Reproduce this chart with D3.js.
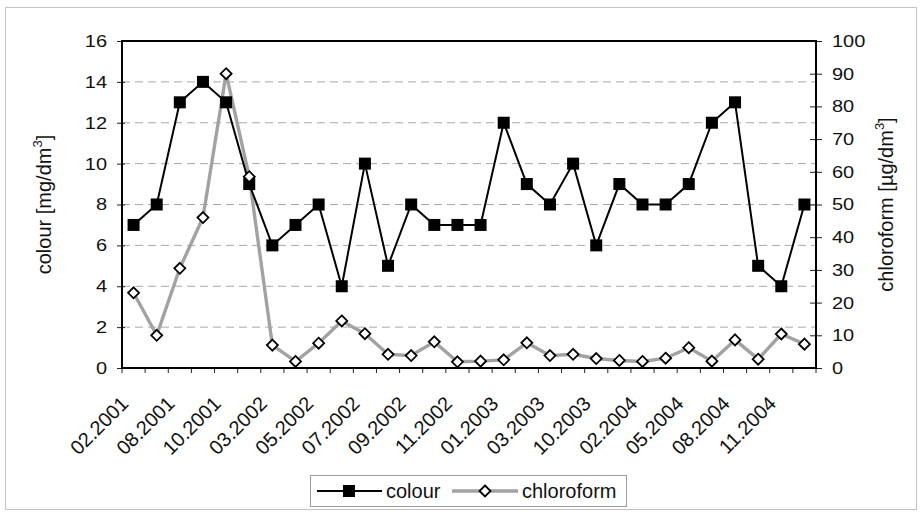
<!DOCTYPE html>
<html>
<head>
<meta charset="utf-8">
<script src="https://cdn.jsdelivr.net/npm/d3@7/dist/d3.min.js"></script>
<style>
  html, body { margin: 0; padding: 0; background: #fff; }
  svg { display: block; }
  text { font-family: "Liberation Sans", Arial, sans-serif; fill: #111; }
</style>
</head>
<body>
<svg id="chart" width="921" height="512"></svg>
<script>
// Sampling dates (one per category; every other one is labelled)
const dates = [
  "02.2001", "05.2001", "08.2001", "09.2001", "10.2001", "12.2001",
  "03.2002", "04.2002", "05.2002", "06.2002", "07.2002", "08.2002",
  "09.2002", "10.2002", "11.2002", "12.2002", "01.2003", "02.2003",
  "03.2003", "09.2003", "10.2003", "01.2004", "02.2004", "04.2004",
  "05.2004", "07.2004", "08.2004", "10.2004", "11.2004", "12.2004"
];
const labelEvery = 2;

// colour [mg/dm3]
const colour = [7, 8, 13, 14, 13, 9, 6, 7, 8, 4, 10, 5, 8, 7, 7, 7, 12, 9, 8, 10, 6, 9, 8, 8, 9, 12, 13, 5, 4, 8];

// chloroform [µg/dm3]
const chloroform = [23, 10, 30.5, 46, 90, 58.5, 7, 2, 7.6, 14.4, 10.5, 4.2, 3.8, 8, 1.9, 2.1, 2.5, 7.7, 3.8, 4.2, 2.9, 2.3, 2, 3, 6.2, 2.1, 8.6, 2.7, 10.4, 7.3];

const leftTicks = [0, 2, 4, 6, 8, 10, 12, 14, 16];
const rightTicks = [0, 10, 20, 30, 40, 50, 60, 70, 80, 90, 100];

const svg = d3.select("#chart");
const plot = { left: 122, right: 816, top: 41, bottom: 368 };
const FS = 20;          // base font size
const TICK_SY = 0.82;   // value labels are drawn slightly condensed vertically

// outer frame
svg.append("rect")
  .attr("x", 5.5).attr("y", 7.5).attr("width", 911).attr("height", 502)
  .attr("fill", "#fff").attr("stroke", "#c4c4c4").attr("stroke-width", 1);

const x = d3.scaleBand().domain(d3.range(dates.length)).range([plot.left, plot.right]).padding(0);
const cx = i => x(i) + x.bandwidth() / 2;
const yL = d3.scaleLinear().domain([0, 16]).range([plot.bottom, plot.top]);
const yR = d3.scaleLinear().domain([0, 100]).range([plot.bottom, plot.top]);

// dashed gridlines
svg.append("g").selectAll("line")
  .data(leftTicks.filter(t => t > 0 && t < 16))
  .join("line")
  .attr("x1", plot.left).attr("x2", plot.right)
  .attr("y1", d => yL(d)).attr("y2", d => yL(d))
  .attr("stroke", "#a8a8a8").attr("stroke-width", 1)
  .attr("stroke-dasharray", "8,5");

// left axis ticks (labels drawn separately)
const gL = svg.append("g").attr("transform", `translate(${plot.left},0)`)
  .call(d3.axisLeft(yL).tickValues(leftTicks).tickSizeOuter(0).tickFormat(""));
gL.select(".domain").remove();
gL.selectAll(".tick line").attr("x1", 3).attr("x2", -5).attr("stroke", "#222");
svg.append("g").selectAll("text")
  .data(leftTicks)
  .join("text")
  .attr("transform", d => `translate(107,${yL(d)}) scale(1,${TICK_SY})`)
  .attr("text-anchor", "end").attr("dy", "0.36em")
  .attr("font-size", FS)
  .text(d => d);

// right axis ticks
const gR = svg.append("g").attr("transform", `translate(${plot.right},0)`)
  .call(d3.axisRight(yR).tickValues(rightTicks).tickSizeOuter(0).tickFormat(""));
gR.select(".domain").remove();
gR.selectAll(".tick line").attr("x1", -6).attr("x2", 6).attr("stroke", "#222");
svg.append("g").selectAll("text")
  .data(rightTicks)
  .join("text")
  .attr("transform", d => `translate(832,${yR(d)}) scale(1,${TICK_SY})`)
  .attr("text-anchor", "start").attr("dy", "0.36em")
  .attr("font-size", FS)
  .text(d => d);

// category ticks along the bottom
svg.append("g").selectAll("line")
  .data(d3.range(dates.length + 1))
  .join("line")
  .attr("x1", i => plot.left + i * x.bandwidth())
  .attr("x2", i => plot.left + i * x.bandwidth())
  .attr("y1", plot.bottom).attr("y2", plot.bottom + 5)
  .attr("stroke", "#222");

// plot frame
svg.append("rect")
  .attr("x", plot.left).attr("y", plot.top)
  .attr("width", plot.right - plot.left).attr("height", plot.bottom - plot.top)
  .attr("fill", "none").attr("stroke", "#000").attr("stroke-width", 2);

// x labels, rotated
svg.append("g").selectAll("text")
  .data(d3.range(dates.length).filter(i => i % labelEvery === 0))
  .join("text")
  .attr("transform", i => `translate(${cx(i) - 4},${plot.bottom + 37}) rotate(-45)`)
  .attr("text-anchor", "end")
  .attr("font-size", FS)
  .text(i => dates[i]);

// axis titles
const tL = svg.append("text")
  .attr("transform", `translate(51,${(plot.top + plot.bottom) / 2}) rotate(-90)`)
  .attr("text-anchor", "middle").attr("font-size", FS);
tL.append("tspan").text("colour [mg/dm");
tL.append("tspan").attr("font-size", 13).attr("dy", -9).text("3");
tL.append("tspan").attr("dy", 9).text("]");

const tR = svg.append("text")
  .attr("transform", `translate(893,${(plot.top + plot.bottom) / 2}) rotate(-90)`)
  .attr("text-anchor", "middle").attr("font-size", FS);
tR.append("tspan").text("chloroform [µg/dm");
tR.append("tspan").attr("font-size", 13).attr("dy", -9).text("3");
tR.append("tspan").attr("dy", 9).text("]");

const diamondPath = (s) => `M0,${-s}L${s},0L0,${s}L${-s},0Z`;

// chloroform series line (gray)
const lineR = d3.line().x((d, i) => cx(i)).y(d => yR(d));
svg.append("path").datum(chloroform)
  .attr("d", lineR).attr("fill", "none")
  .attr("stroke", "#a2a2a2").attr("stroke-width", 3.4).attr("stroke-linejoin", "round");

// colour series (black line, filled squares)
const lineL = d3.line().x((d, i) => cx(i)).y(d => yL(d));
svg.append("path").datum(colour)
  .attr("d", lineL).attr("fill", "none")
  .attr("stroke", "#000").attr("stroke-width", 2);

svg.append("g").selectAll("rect")
  .data(colour)
  .join("rect")
  .attr("x", (d, i) => cx(i) - 6).attr("y", d => yL(d) - 6)
  .attr("width", 12).attr("height", 12)
  .attr("fill", "#000");

// chloroform markers (open diamonds)
svg.append("g").selectAll("path")
  .data(chloroform)
  .join("path")
  .attr("transform", (d, i) => `translate(${cx(i)},${yR(d)})`)
  .attr("d", diamondPath(5.5))
  .attr("fill", "#fff").attr("stroke", "#000").attr("stroke-width", 1.8);

// legend
const lg = svg.append("g");
lg.append("rect")
  .attr("x", 310.5).attr("y", 475.5).attr("width", 316).attr("height", 31)
  .attr("fill", "#fff").attr("stroke", "#9a9a9a").attr("stroke-width", 1);
lg.append("line").attr("x1", 317).attr("x2", 382).attr("y1", 491).attr("y2", 491)
  .attr("stroke", "#000").attr("stroke-width", 2);
lg.append("rect").attr("x", 343).attr("y", 485).attr("width", 12).attr("height", 12).attr("fill", "#000");
lg.append("text").attr("x", 386).attr("y", 498).attr("font-size", FS).text("colour");
lg.append("line").attr("x1", 452).attr("x2", 518).attr("y1", 491).attr("y2", 491)
  .attr("stroke", "#a2a2a2").attr("stroke-width", 3.4);
lg.append("path").attr("transform", "translate(485,491)").attr("d", diamondPath(5.5))
  .attr("fill", "#fff").attr("stroke", "#000").attr("stroke-width", 1.8);
lg.append("text").attr("x", 522).attr("y", 498).attr("font-size", FS).text("chloroform");
</script>
</body>
</html>
